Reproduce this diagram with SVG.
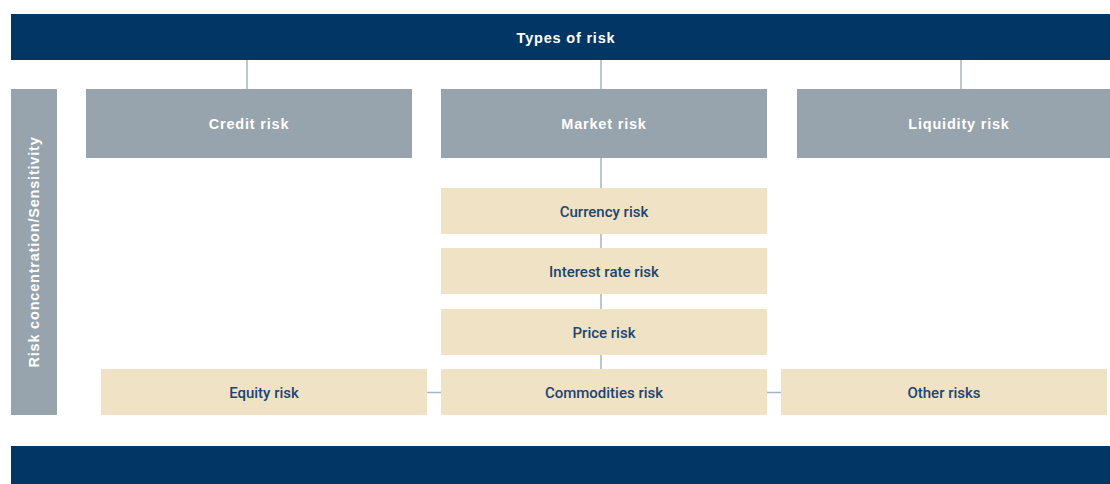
<svg xmlns="http://www.w3.org/2000/svg" width="1110" height="484" viewBox="0 0 1110 484">
<style>
.bar{fill:#023665}
.gray{fill:#97a3ad}
.beige{fill:#f0e2c5}
.wt{fill:#ffffff;font-family:"Liberation Sans",Arial,sans-serif;font-weight:700;font-size:14.5px;letter-spacing:0.8px;text-anchor:middle;dominant-baseline:central}
.bt{fill:#1d4570;font-family:Roboto,"Liberation Sans",sans-serif;font-weight:500;font-size:15px;text-anchor:middle;dominant-baseline:central}
.conn{stroke:#a6b4c8;stroke-width:1.5;fill:none}
</style>
<rect width="1110" height="484" fill="#ffffff"/>
<g id="connectors">
<line class="conn" x1="247" y1="60" x2="247" y2="89"/>
<line class="conn" x1="601" y1="60" x2="601" y2="89"/>
<line class="conn" x1="961" y1="60" x2="961" y2="89"/>
<line class="conn" x1="601" y1="158" x2="601" y2="369"/>
<line class="conn" x1="427" y1="392.5" x2="441" y2="392.5"/>
<line class="conn" x1="767" y1="392.5" x2="781" y2="392.5"/>
</g>
<g id="types-of-risk">
<rect class="bar" x="11" y="14" width="1099" height="46"/>
<text class="wt" x="566" y="38">Types of risk</text>
</g>
<g id="risk-concentration">
<rect class="gray" x="11" y="89" width="46" height="326"/>
<text class="wt" transform="translate(34 252) rotate(-90)" x="0" y="0">Risk concentration/Sensitivity</text>
</g>
<g id="credit-risk">
<rect class="gray" x="86" y="89" width="326" height="69"/>
<text class="wt" x="249" y="124">Credit risk</text>
</g>
<g id="market-risk">
<rect class="gray" x="441" y="89" width="326" height="69"/>
<text class="wt" x="604" y="124">Market risk</text>
</g>
<g id="liquidity-risk">
<rect class="gray" x="797" y="89" width="313" height="69"/>
<text class="wt" x="959" y="124">Liquidity risk</text>
</g>
<g id="currency-risk">
<rect class="beige" x="441" y="188" width="326" height="46"/>
<text class="bt" x="604" y="212">Currency risk</text>
</g>
<g id="interest-rate-risk">
<rect class="beige" x="441" y="248" width="326" height="46"/>
<text class="bt" x="604" y="272">Interest rate risk</text>
</g>
<g id="price-risk">
<rect class="beige" x="441" y="309" width="326" height="46"/>
<text class="bt" x="604" y="333">Price risk</text>
</g>
<g id="commodities-risk">
<rect class="beige" x="441" y="369" width="326" height="46"/>
<text class="bt" x="604" y="393">Commodities risk</text>
</g>
<g id="equity-risk">
<rect class="beige" x="101" y="369" width="326" height="46"/>
<text class="bt" x="264" y="393">Equity risk</text>
</g>
<g id="other-risks">
<rect class="beige" x="781" y="369" width="326" height="46"/>
<text class="bt" x="944" y="393">Other risks</text>
</g>
<g id="bottom-bar">
<rect class="bar" x="11" y="446" width="1099" height="38"/>
</g>
</svg>
